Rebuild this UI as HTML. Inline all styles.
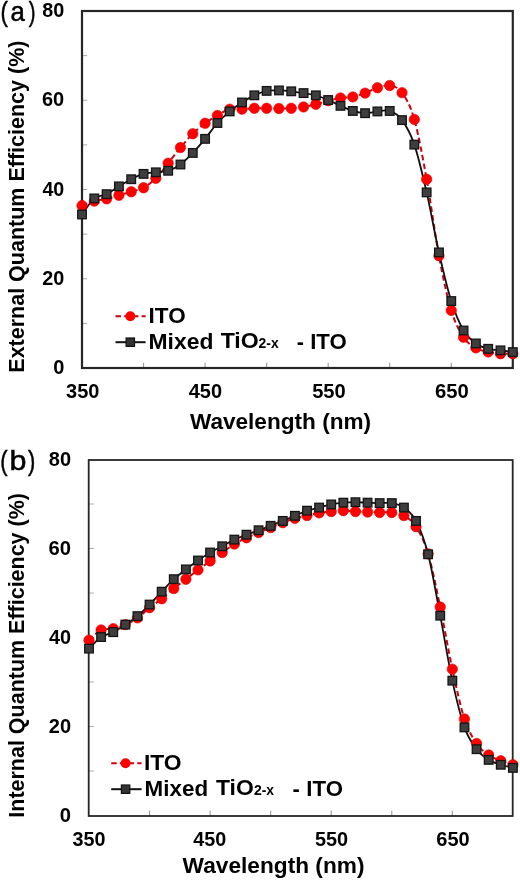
<!DOCTYPE html>
<html><head><meta charset="utf-8"><style>
html,body{margin:0;padding:0;background:#fff;}
body{width:520px;height:880px;overflow:hidden;}
svg{display:block;will-change:transform;font-family:"Liberation Sans", sans-serif;}
.e{}
</style></head><body>
<svg width="520" height="880" viewBox="0 0 520 880" fill="#000">
<line x1="143.54" y1="368.00" x2="143.54" y2="362.80" stroke="#999" stroke-width="1.1"/>
<line x1="205.09" y1="368.00" x2="205.09" y2="362.80" stroke="#999" stroke-width="1.1"/>
<line x1="266.63" y1="368.00" x2="266.63" y2="362.80" stroke="#999" stroke-width="1.1"/>
<line x1="328.17" y1="368.00" x2="328.17" y2="362.80" stroke="#999" stroke-width="1.1"/>
<line x1="389.71" y1="368.00" x2="389.71" y2="362.80" stroke="#999" stroke-width="1.1"/>
<line x1="451.26" y1="368.00" x2="451.26" y2="362.80" stroke="#999" stroke-width="1.1"/>
<line x1="82.00" y1="323.38" x2="87.20" y2="323.38" stroke="#aaa" stroke-width="1"/>
<line x1="82.00" y1="278.75" x2="87.20" y2="278.75" stroke="#aaa" stroke-width="1"/>
<line x1="82.00" y1="234.12" x2="87.20" y2="234.12" stroke="#aaa" stroke-width="1"/>
<line x1="82.00" y1="189.50" x2="87.20" y2="189.50" stroke="#aaa" stroke-width="1"/>
<line x1="82.00" y1="144.88" x2="87.20" y2="144.88" stroke="#aaa" stroke-width="1"/>
<line x1="82.00" y1="100.25" x2="87.20" y2="100.25" stroke="#aaa" stroke-width="1"/>
<line x1="82.00" y1="55.62" x2="87.20" y2="55.62" stroke="#aaa" stroke-width="1"/>
<rect x="82.00" y="11.00" width="430.80" height="357.00" fill="none" stroke="#262626" stroke-width="2.20"/>
<path d="M82.00,205.56 C84.05,204.82 90.21,202.22 94.31,201.10 C98.41,199.99 102.51,199.84 106.62,198.87 C110.72,197.90 114.82,196.49 118.93,195.30 C123.03,194.11 127.13,193.00 131.23,191.73 C135.34,190.47 139.44,189.95 143.54,187.72 C147.65,185.48 151.75,182.43 155.85,178.34 C159.95,174.25 164.06,168.30 168.16,163.17 C172.26,158.04 176.37,152.46 180.47,147.55 C184.57,142.64 188.67,137.77 192.78,133.72 C196.88,129.67 200.98,126.28 205.09,123.23 C209.19,120.18 213.29,117.77 217.39,115.42 C221.50,113.08 225.60,110.22 229.70,109.18 C233.81,108.13 237.91,109.32 242.01,109.18 C246.11,109.03 250.22,108.43 254.32,108.28 C258.42,108.13 262.53,108.25 266.63,108.28 C270.73,108.32 274.83,108.51 278.94,108.51 C283.04,108.51 287.14,108.54 291.25,108.28 C295.35,108.02 299.45,107.61 303.55,106.94 C307.66,106.27 311.76,105.31 315.86,104.27 C319.97,103.23 324.07,101.74 328.17,100.70 C332.27,99.66 336.38,98.65 340.48,98.02 C344.58,97.39 348.69,97.72 352.79,96.90 C356.89,96.08 360.99,94.63 365.10,93.11 C369.20,91.59 373.30,89.02 377.41,87.75 C381.51,86.49 385.61,84.71 389.71,85.52 C393.82,86.34 397.92,87.01 402.02,92.66 C406.13,98.32 410.23,105.01 414.33,119.44 C418.43,133.87 422.54,156.51 426.64,179.24 C430.74,201.96 434.85,233.90 438.95,255.77 C443.05,277.63 447.15,296.86 451.26,310.43 C455.36,324.01 459.46,330.96 463.57,337.21 C467.67,343.46 471.77,345.46 475.87,347.92 C479.98,350.37 484.08,350.97 488.18,351.94 C492.29,352.90 496.39,353.42 500.49,353.72 C504.59,354.02 510.75,353.72 512.80,353.72" fill="none" stroke="#d00010" stroke-width="2.00" stroke-dasharray="5.5,3.2"/>
<path d="M82.00,214.49 C84.05,211.81 90.21,201.81 94.31,198.43 C98.41,195.04 102.51,196.19 106.62,194.19 C110.72,192.18 114.82,188.87 118.93,186.38 C123.03,183.88 127.13,181.32 131.23,179.24 C135.34,177.15 139.44,175.03 143.54,173.88 C147.65,172.73 151.75,172.84 155.85,172.32 C159.95,171.80 164.06,172.06 168.16,170.76 C172.26,169.46 176.37,167.48 180.47,164.51 C184.57,161.53 188.67,157.18 192.78,152.91 C196.88,148.63 200.98,143.83 205.09,138.85 C209.19,133.87 213.29,127.58 217.39,123.01 C221.50,118.43 225.60,114.83 229.70,111.41 C233.81,107.98 237.91,105.16 242.01,102.48 C246.11,99.80 250.22,97.28 254.32,95.34 C258.42,93.41 262.53,91.70 266.63,90.88 C270.73,90.06 274.83,90.36 278.94,90.43 C283.04,90.51 287.14,90.88 291.25,91.32 C295.35,91.77 299.45,92.44 303.55,93.11 C307.66,93.78 311.76,94.19 315.86,95.34 C319.97,96.49 324.07,98.28 328.17,100.03 C332.27,101.77 336.38,104.01 340.48,105.83 C344.58,107.65 348.69,109.73 352.79,110.96 C356.89,112.19 360.99,113.12 365.10,113.19 C369.20,113.27 373.30,111.78 377.41,111.41 C381.51,111.03 385.61,109.51 389.71,110.96 C393.82,112.41 397.92,114.50 402.02,120.11 C406.13,125.72 410.23,132.56 414.33,144.61 C418.43,156.66 422.54,174.43 426.64,192.40 C430.74,210.37 434.85,234.31 438.95,252.42 C443.05,270.53 447.15,288.05 451.26,301.06 C455.36,314.08 459.46,323.45 463.57,330.51 C467.67,337.58 471.77,340.41 475.87,343.46 C479.98,346.51 484.08,347.66 488.18,348.81 C492.29,349.96 496.39,349.82 500.49,350.37 C504.59,350.92 510.75,351.82 512.80,352.11" fill="none" stroke="#111" stroke-width="1.80"/>
<circle cx="82.00" cy="205.56" r="5.20" fill="#ff0000" stroke="#e00000" stroke-width="0.6"/>
<circle cx="94.31" cy="201.10" r="5.20" fill="#ff0000" stroke="#e00000" stroke-width="0.6"/>
<circle cx="106.62" cy="198.87" r="5.20" fill="#ff0000" stroke="#e00000" stroke-width="0.6"/>
<circle cx="118.93" cy="195.30" r="5.20" fill="#ff0000" stroke="#e00000" stroke-width="0.6"/>
<circle cx="131.23" cy="191.73" r="5.20" fill="#ff0000" stroke="#e00000" stroke-width="0.6"/>
<circle cx="143.54" cy="187.72" r="5.20" fill="#ff0000" stroke="#e00000" stroke-width="0.6"/>
<circle cx="155.85" cy="178.34" r="5.20" fill="#ff0000" stroke="#e00000" stroke-width="0.6"/>
<circle cx="168.16" cy="163.17" r="5.20" fill="#ff0000" stroke="#e00000" stroke-width="0.6"/>
<circle cx="180.47" cy="147.55" r="5.20" fill="#ff0000" stroke="#e00000" stroke-width="0.6"/>
<circle cx="192.78" cy="133.72" r="5.20" fill="#ff0000" stroke="#e00000" stroke-width="0.6"/>
<circle cx="205.09" cy="123.23" r="5.20" fill="#ff0000" stroke="#e00000" stroke-width="0.6"/>
<circle cx="217.39" cy="115.42" r="5.20" fill="#ff0000" stroke="#e00000" stroke-width="0.6"/>
<circle cx="229.70" cy="109.18" r="5.20" fill="#ff0000" stroke="#e00000" stroke-width="0.6"/>
<circle cx="242.01" cy="109.18" r="5.20" fill="#ff0000" stroke="#e00000" stroke-width="0.6"/>
<circle cx="254.32" cy="108.28" r="5.20" fill="#ff0000" stroke="#e00000" stroke-width="0.6"/>
<circle cx="266.63" cy="108.28" r="5.20" fill="#ff0000" stroke="#e00000" stroke-width="0.6"/>
<circle cx="278.94" cy="108.51" r="5.20" fill="#ff0000" stroke="#e00000" stroke-width="0.6"/>
<circle cx="291.25" cy="108.28" r="5.20" fill="#ff0000" stroke="#e00000" stroke-width="0.6"/>
<circle cx="303.55" cy="106.94" r="5.20" fill="#ff0000" stroke="#e00000" stroke-width="0.6"/>
<circle cx="315.86" cy="104.27" r="5.20" fill="#ff0000" stroke="#e00000" stroke-width="0.6"/>
<circle cx="328.17" cy="100.70" r="5.20" fill="#ff0000" stroke="#e00000" stroke-width="0.6"/>
<circle cx="340.48" cy="98.02" r="5.20" fill="#ff0000" stroke="#e00000" stroke-width="0.6"/>
<circle cx="352.79" cy="96.90" r="5.20" fill="#ff0000" stroke="#e00000" stroke-width="0.6"/>
<circle cx="365.10" cy="93.11" r="5.20" fill="#ff0000" stroke="#e00000" stroke-width="0.6"/>
<circle cx="377.41" cy="87.75" r="5.20" fill="#ff0000" stroke="#e00000" stroke-width="0.6"/>
<circle cx="389.71" cy="85.52" r="5.20" fill="#ff0000" stroke="#e00000" stroke-width="0.6"/>
<circle cx="402.02" cy="92.66" r="5.20" fill="#ff0000" stroke="#e00000" stroke-width="0.6"/>
<circle cx="414.33" cy="119.44" r="5.20" fill="#ff0000" stroke="#e00000" stroke-width="0.6"/>
<circle cx="426.64" cy="179.24" r="5.20" fill="#ff0000" stroke="#e00000" stroke-width="0.6"/>
<circle cx="438.95" cy="255.77" r="5.20" fill="#ff0000" stroke="#e00000" stroke-width="0.6"/>
<circle cx="451.26" cy="310.43" r="5.20" fill="#ff0000" stroke="#e00000" stroke-width="0.6"/>
<circle cx="463.57" cy="337.21" r="5.20" fill="#ff0000" stroke="#e00000" stroke-width="0.6"/>
<circle cx="475.87" cy="347.92" r="5.20" fill="#ff0000" stroke="#e00000" stroke-width="0.6"/>
<circle cx="488.18" cy="351.94" r="5.20" fill="#ff0000" stroke="#e00000" stroke-width="0.6"/>
<circle cx="500.49" cy="353.72" r="5.20" fill="#ff0000" stroke="#e00000" stroke-width="0.6"/>
<circle cx="512.80" cy="353.72" r="5.20" fill="#ff0000" stroke="#e00000" stroke-width="0.6"/>
<rect x="77.70" y="210.19" width="8.60" height="8.60" fill="#3e3e3e" stroke="#151515" stroke-width="1.3"/>
<rect x="90.01" y="194.12" width="8.60" height="8.60" fill="#3e3e3e" stroke="#151515" stroke-width="1.3"/>
<rect x="102.32" y="189.89" width="8.60" height="8.60" fill="#3e3e3e" stroke="#151515" stroke-width="1.3"/>
<rect x="114.63" y="182.08" width="8.60" height="8.60" fill="#3e3e3e" stroke="#151515" stroke-width="1.3"/>
<rect x="126.93" y="174.94" width="8.60" height="8.60" fill="#3e3e3e" stroke="#151515" stroke-width="1.3"/>
<rect x="139.24" y="169.58" width="8.60" height="8.60" fill="#3e3e3e" stroke="#151515" stroke-width="1.3"/>
<rect x="151.55" y="168.02" width="8.60" height="8.60" fill="#3e3e3e" stroke="#151515" stroke-width="1.3"/>
<rect x="163.86" y="166.46" width="8.60" height="8.60" fill="#3e3e3e" stroke="#151515" stroke-width="1.3"/>
<rect x="176.17" y="160.21" width="8.60" height="8.60" fill="#3e3e3e" stroke="#151515" stroke-width="1.3"/>
<rect x="188.48" y="148.61" width="8.60" height="8.60" fill="#3e3e3e" stroke="#151515" stroke-width="1.3"/>
<rect x="200.79" y="134.55" width="8.60" height="8.60" fill="#3e3e3e" stroke="#151515" stroke-width="1.3"/>
<rect x="213.09" y="118.71" width="8.60" height="8.60" fill="#3e3e3e" stroke="#151515" stroke-width="1.3"/>
<rect x="225.40" y="107.11" width="8.60" height="8.60" fill="#3e3e3e" stroke="#151515" stroke-width="1.3"/>
<rect x="237.71" y="98.18" width="8.60" height="8.60" fill="#3e3e3e" stroke="#151515" stroke-width="1.3"/>
<rect x="250.02" y="91.04" width="8.60" height="8.60" fill="#3e3e3e" stroke="#151515" stroke-width="1.3"/>
<rect x="262.33" y="86.58" width="8.60" height="8.60" fill="#3e3e3e" stroke="#151515" stroke-width="1.3"/>
<rect x="274.64" y="86.13" width="8.60" height="8.60" fill="#3e3e3e" stroke="#151515" stroke-width="1.3"/>
<rect x="286.95" y="87.02" width="8.60" height="8.60" fill="#3e3e3e" stroke="#151515" stroke-width="1.3"/>
<rect x="299.25" y="88.81" width="8.60" height="8.60" fill="#3e3e3e" stroke="#151515" stroke-width="1.3"/>
<rect x="311.56" y="91.04" width="8.60" height="8.60" fill="#3e3e3e" stroke="#151515" stroke-width="1.3"/>
<rect x="323.87" y="95.73" width="8.60" height="8.60" fill="#3e3e3e" stroke="#151515" stroke-width="1.3"/>
<rect x="336.18" y="101.53" width="8.60" height="8.60" fill="#3e3e3e" stroke="#151515" stroke-width="1.3"/>
<rect x="348.49" y="106.66" width="8.60" height="8.60" fill="#3e3e3e" stroke="#151515" stroke-width="1.3"/>
<rect x="360.80" y="108.89" width="8.60" height="8.60" fill="#3e3e3e" stroke="#151515" stroke-width="1.3"/>
<rect x="373.11" y="107.11" width="8.60" height="8.60" fill="#3e3e3e" stroke="#151515" stroke-width="1.3"/>
<rect x="385.41" y="106.66" width="8.60" height="8.60" fill="#3e3e3e" stroke="#151515" stroke-width="1.3"/>
<rect x="397.72" y="115.81" width="8.60" height="8.60" fill="#3e3e3e" stroke="#151515" stroke-width="1.3"/>
<rect x="410.03" y="140.31" width="8.60" height="8.60" fill="#3e3e3e" stroke="#151515" stroke-width="1.3"/>
<rect x="422.34" y="188.10" width="8.60" height="8.60" fill="#3e3e3e" stroke="#151515" stroke-width="1.3"/>
<rect x="434.65" y="248.12" width="8.60" height="8.60" fill="#3e3e3e" stroke="#151515" stroke-width="1.3"/>
<rect x="446.96" y="296.76" width="8.60" height="8.60" fill="#3e3e3e" stroke="#151515" stroke-width="1.3"/>
<rect x="459.27" y="326.21" width="8.60" height="8.60" fill="#3e3e3e" stroke="#151515" stroke-width="1.3"/>
<rect x="471.57" y="339.16" width="8.60" height="8.60" fill="#3e3e3e" stroke="#151515" stroke-width="1.3"/>
<rect x="483.88" y="344.51" width="8.60" height="8.60" fill="#3e3e3e" stroke="#151515" stroke-width="1.3"/>
<rect x="496.19" y="346.07" width="8.60" height="8.60" fill="#3e3e3e" stroke="#151515" stroke-width="1.3"/>
<rect x="508.50" y="347.81" width="8.60" height="8.60" fill="#3e3e3e" stroke="#151515" stroke-width="1.3"/>
<line x1="149.56" y1="816.00" x2="149.56" y2="810.80" stroke="#999" stroke-width="1.1"/>
<line x1="210.11" y1="816.00" x2="210.11" y2="810.80" stroke="#999" stroke-width="1.1"/>
<line x1="270.67" y1="816.00" x2="270.67" y2="810.80" stroke="#999" stroke-width="1.1"/>
<line x1="331.23" y1="816.00" x2="331.23" y2="810.80" stroke="#999" stroke-width="1.1"/>
<line x1="391.79" y1="816.00" x2="391.79" y2="810.80" stroke="#999" stroke-width="1.1"/>
<line x1="452.34" y1="816.00" x2="452.34" y2="810.80" stroke="#999" stroke-width="1.1"/>
<line x1="88.70" y1="771.00" x2="93.90" y2="771.00" stroke="#aaa" stroke-width="1"/>
<line x1="88.70" y1="726.50" x2="93.90" y2="726.50" stroke="#aaa" stroke-width="1"/>
<line x1="88.70" y1="682.00" x2="93.90" y2="682.00" stroke="#aaa" stroke-width="1"/>
<line x1="88.70" y1="637.50" x2="93.90" y2="637.50" stroke="#aaa" stroke-width="1"/>
<line x1="88.70" y1="593.00" x2="93.90" y2="593.00" stroke="#aaa" stroke-width="1"/>
<line x1="88.70" y1="548.50" x2="93.90" y2="548.50" stroke="#aaa" stroke-width="1"/>
<line x1="88.70" y1="504.00" x2="93.90" y2="504.00" stroke="#aaa" stroke-width="1"/>
<rect x="88.70" y="460.00" width="424.00" height="356.00" fill="none" stroke="#262626" stroke-width="1.80"/>
<path d="M89.00,640.17 C91.02,638.46 97.07,631.86 101.11,629.93 C105.15,628.01 109.19,629.49 113.22,628.60 C117.26,627.71 121.30,626.38 125.33,624.60 C129.37,622.82 133.41,620.74 137.45,617.92 C141.48,615.10 145.52,610.87 149.56,607.68 C153.59,604.50 157.63,601.97 161.67,598.78 C165.71,595.60 169.74,591.81 173.78,588.55 C177.82,585.29 181.85,582.32 185.89,579.20 C189.93,576.09 193.97,572.90 198.00,569.86 C202.04,566.82 206.08,563.85 210.11,560.96 C214.15,558.07 218.19,555.32 222.23,552.50 C226.26,549.69 230.30,546.50 234.34,544.05 C238.37,541.60 242.41,539.75 246.45,537.82 C250.49,535.89 254.52,534.19 258.56,532.48 C262.60,530.77 266.63,529.22 270.67,527.59 C274.71,525.95 278.75,524.25 282.78,522.69 C286.82,521.13 290.86,519.43 294.89,518.24 C298.93,517.05 302.97,516.46 307.01,515.57 C311.04,514.68 315.08,513.57 319.12,512.90 C323.15,512.23 327.19,511.94 331.23,511.56 C335.27,511.19 339.30,510.68 343.34,510.68 C347.38,510.68 351.41,511.34 355.45,511.56 C359.49,511.79 363.53,511.86 367.56,512.01 C371.60,512.16 375.64,512.38 379.67,512.46 C383.71,512.53 387.75,511.94 391.79,512.46 C395.82,512.97 399.86,513.20 403.90,515.57 C407.93,517.94 411.97,520.32 416.01,526.69 C420.05,533.07 424.08,540.45 428.12,553.84 C432.16,567.23 436.19,587.81 440.23,607.02 C444.27,626.23 448.31,650.44 452.34,669.10 C456.38,687.75 460.42,706.55 464.45,718.93 C468.49,731.32 472.53,737.40 476.57,743.41 C480.60,749.42 484.64,752.09 488.68,754.98 C492.71,757.87 496.75,759.13 500.79,760.76 C504.83,762.40 510.88,764.10 512.90,764.77" fill="none" stroke="#d00010" stroke-width="2.00" stroke-dasharray="5.5,3.2"/>
<path d="M89.00,648.62 C91.02,646.70 97.07,639.80 101.11,637.06 C105.15,634.31 109.19,634.24 113.22,632.16 C117.26,630.08 121.30,627.26 125.33,624.60 C129.37,621.93 133.41,619.48 137.45,616.14 C141.48,612.80 145.52,608.65 149.56,604.57 C153.59,600.49 157.63,595.89 161.67,591.66 C165.71,587.44 169.74,582.91 173.78,579.20 C177.82,575.50 181.85,572.53 185.89,569.41 C189.93,566.30 193.97,563.33 198.00,560.51 C202.04,557.70 206.08,554.88 210.11,552.50 C214.15,550.13 218.19,548.43 222.23,546.27 C226.26,544.12 230.30,541.53 234.34,539.60 C238.37,537.67 242.41,536.26 246.45,534.70 C250.49,533.15 254.52,531.74 258.56,530.25 C262.60,528.77 266.63,527.36 270.67,525.81 C274.71,524.25 278.75,522.58 282.78,520.91 C286.82,519.24 290.86,517.50 294.89,515.79 C298.93,514.09 302.97,512.05 307.01,510.68 C311.04,509.30 315.08,508.60 319.12,507.56 C323.15,506.52 327.19,505.26 331.23,504.44 C335.27,503.63 339.30,503.04 343.34,502.67 C347.38,502.29 351.41,502.22 355.45,502.22 C359.49,502.22 363.53,502.52 367.56,502.67 C371.60,502.81 375.64,503.04 379.67,503.11 C383.71,503.18 387.75,502.37 391.79,503.11 C395.82,503.85 399.86,504.59 403.90,507.56 C407.93,510.53 411.97,513.12 416.01,520.91 C420.05,528.70 424.08,538.49 428.12,554.28 C432.16,570.08 436.19,594.63 440.23,615.69 C444.27,636.76 448.31,662.05 452.34,680.66 C456.38,699.28 460.42,715.97 464.45,727.39 C468.49,738.81 472.53,743.78 476.57,749.19 C480.60,754.61 484.64,757.28 488.68,759.88 C492.71,762.47 496.75,763.43 500.79,764.77 C504.83,766.11 510.88,767.37 512.90,767.88" fill="none" stroke="#111" stroke-width="1.80"/>
<circle cx="89.00" cy="640.17" r="5.20" fill="#ff0000" stroke="#e00000" stroke-width="0.6"/>
<circle cx="101.11" cy="629.93" r="5.20" fill="#ff0000" stroke="#e00000" stroke-width="0.6"/>
<circle cx="113.22" cy="628.60" r="5.20" fill="#ff0000" stroke="#e00000" stroke-width="0.6"/>
<circle cx="125.33" cy="624.60" r="5.20" fill="#ff0000" stroke="#e00000" stroke-width="0.6"/>
<circle cx="137.45" cy="617.92" r="5.20" fill="#ff0000" stroke="#e00000" stroke-width="0.6"/>
<circle cx="149.56" cy="607.68" r="5.20" fill="#ff0000" stroke="#e00000" stroke-width="0.6"/>
<circle cx="161.67" cy="598.78" r="5.20" fill="#ff0000" stroke="#e00000" stroke-width="0.6"/>
<circle cx="173.78" cy="588.55" r="5.20" fill="#ff0000" stroke="#e00000" stroke-width="0.6"/>
<circle cx="185.89" cy="579.20" r="5.20" fill="#ff0000" stroke="#e00000" stroke-width="0.6"/>
<circle cx="198.00" cy="569.86" r="5.20" fill="#ff0000" stroke="#e00000" stroke-width="0.6"/>
<circle cx="210.11" cy="560.96" r="5.20" fill="#ff0000" stroke="#e00000" stroke-width="0.6"/>
<circle cx="222.23" cy="552.50" r="5.20" fill="#ff0000" stroke="#e00000" stroke-width="0.6"/>
<circle cx="234.34" cy="544.05" r="5.20" fill="#ff0000" stroke="#e00000" stroke-width="0.6"/>
<circle cx="246.45" cy="537.82" r="5.20" fill="#ff0000" stroke="#e00000" stroke-width="0.6"/>
<circle cx="258.56" cy="532.48" r="5.20" fill="#ff0000" stroke="#e00000" stroke-width="0.6"/>
<circle cx="270.67" cy="527.59" r="5.20" fill="#ff0000" stroke="#e00000" stroke-width="0.6"/>
<circle cx="282.78" cy="522.69" r="5.20" fill="#ff0000" stroke="#e00000" stroke-width="0.6"/>
<circle cx="294.89" cy="518.24" r="5.20" fill="#ff0000" stroke="#e00000" stroke-width="0.6"/>
<circle cx="307.01" cy="515.57" r="5.20" fill="#ff0000" stroke="#e00000" stroke-width="0.6"/>
<circle cx="319.12" cy="512.90" r="5.20" fill="#ff0000" stroke="#e00000" stroke-width="0.6"/>
<circle cx="331.23" cy="511.56" r="5.20" fill="#ff0000" stroke="#e00000" stroke-width="0.6"/>
<circle cx="343.34" cy="510.68" r="5.20" fill="#ff0000" stroke="#e00000" stroke-width="0.6"/>
<circle cx="355.45" cy="511.56" r="5.20" fill="#ff0000" stroke="#e00000" stroke-width="0.6"/>
<circle cx="367.56" cy="512.01" r="5.20" fill="#ff0000" stroke="#e00000" stroke-width="0.6"/>
<circle cx="379.67" cy="512.46" r="5.20" fill="#ff0000" stroke="#e00000" stroke-width="0.6"/>
<circle cx="391.79" cy="512.46" r="5.20" fill="#ff0000" stroke="#e00000" stroke-width="0.6"/>
<circle cx="403.90" cy="515.57" r="5.20" fill="#ff0000" stroke="#e00000" stroke-width="0.6"/>
<circle cx="416.01" cy="526.69" r="5.20" fill="#ff0000" stroke="#e00000" stroke-width="0.6"/>
<circle cx="428.12" cy="553.84" r="5.20" fill="#ff0000" stroke="#e00000" stroke-width="0.6"/>
<circle cx="440.23" cy="607.02" r="5.20" fill="#ff0000" stroke="#e00000" stroke-width="0.6"/>
<circle cx="452.34" cy="669.10" r="5.20" fill="#ff0000" stroke="#e00000" stroke-width="0.6"/>
<circle cx="464.45" cy="718.93" r="5.20" fill="#ff0000" stroke="#e00000" stroke-width="0.6"/>
<circle cx="476.57" cy="743.41" r="5.20" fill="#ff0000" stroke="#e00000" stroke-width="0.6"/>
<circle cx="488.68" cy="754.98" r="5.20" fill="#ff0000" stroke="#e00000" stroke-width="0.6"/>
<circle cx="500.79" cy="760.76" r="5.20" fill="#ff0000" stroke="#e00000" stroke-width="0.6"/>
<circle cx="512.90" cy="764.77" r="5.20" fill="#ff0000" stroke="#e00000" stroke-width="0.6"/>
<rect x="84.70" y="644.33" width="8.60" height="8.60" fill="#3e3e3e" stroke="#151515" stroke-width="1.3"/>
<rect x="96.81" y="632.76" width="8.60" height="8.60" fill="#3e3e3e" stroke="#151515" stroke-width="1.3"/>
<rect x="108.92" y="627.86" width="8.60" height="8.60" fill="#3e3e3e" stroke="#151515" stroke-width="1.3"/>
<rect x="121.03" y="620.30" width="8.60" height="8.60" fill="#3e3e3e" stroke="#151515" stroke-width="1.3"/>
<rect x="133.15" y="611.84" width="8.60" height="8.60" fill="#3e3e3e" stroke="#151515" stroke-width="1.3"/>
<rect x="145.26" y="600.27" width="8.60" height="8.60" fill="#3e3e3e" stroke="#151515" stroke-width="1.3"/>
<rect x="157.37" y="587.37" width="8.60" height="8.60" fill="#3e3e3e" stroke="#151515" stroke-width="1.3"/>
<rect x="169.48" y="574.90" width="8.60" height="8.60" fill="#3e3e3e" stroke="#151515" stroke-width="1.3"/>
<rect x="181.59" y="565.12" width="8.60" height="8.60" fill="#3e3e3e" stroke="#151515" stroke-width="1.3"/>
<rect x="193.70" y="556.22" width="8.60" height="8.60" fill="#3e3e3e" stroke="#151515" stroke-width="1.3"/>
<rect x="205.81" y="548.21" width="8.60" height="8.60" fill="#3e3e3e" stroke="#151515" stroke-width="1.3"/>
<rect x="217.93" y="541.98" width="8.60" height="8.60" fill="#3e3e3e" stroke="#151515" stroke-width="1.3"/>
<rect x="230.04" y="535.30" width="8.60" height="8.60" fill="#3e3e3e" stroke="#151515" stroke-width="1.3"/>
<rect x="242.15" y="530.40" width="8.60" height="8.60" fill="#3e3e3e" stroke="#151515" stroke-width="1.3"/>
<rect x="254.26" y="525.96" width="8.60" height="8.60" fill="#3e3e3e" stroke="#151515" stroke-width="1.3"/>
<rect x="266.37" y="521.51" width="8.60" height="8.60" fill="#3e3e3e" stroke="#151515" stroke-width="1.3"/>
<rect x="278.48" y="516.61" width="8.60" height="8.60" fill="#3e3e3e" stroke="#151515" stroke-width="1.3"/>
<rect x="290.59" y="511.49" width="8.60" height="8.60" fill="#3e3e3e" stroke="#151515" stroke-width="1.3"/>
<rect x="302.71" y="506.38" width="8.60" height="8.60" fill="#3e3e3e" stroke="#151515" stroke-width="1.3"/>
<rect x="314.82" y="503.26" width="8.60" height="8.60" fill="#3e3e3e" stroke="#151515" stroke-width="1.3"/>
<rect x="326.93" y="500.14" width="8.60" height="8.60" fill="#3e3e3e" stroke="#151515" stroke-width="1.3"/>
<rect x="339.04" y="498.37" width="8.60" height="8.60" fill="#3e3e3e" stroke="#151515" stroke-width="1.3"/>
<rect x="351.15" y="497.92" width="8.60" height="8.60" fill="#3e3e3e" stroke="#151515" stroke-width="1.3"/>
<rect x="363.26" y="498.37" width="8.60" height="8.60" fill="#3e3e3e" stroke="#151515" stroke-width="1.3"/>
<rect x="375.37" y="498.81" width="8.60" height="8.60" fill="#3e3e3e" stroke="#151515" stroke-width="1.3"/>
<rect x="387.49" y="498.81" width="8.60" height="8.60" fill="#3e3e3e" stroke="#151515" stroke-width="1.3"/>
<rect x="399.60" y="503.26" width="8.60" height="8.60" fill="#3e3e3e" stroke="#151515" stroke-width="1.3"/>
<rect x="411.71" y="516.61" width="8.60" height="8.60" fill="#3e3e3e" stroke="#151515" stroke-width="1.3"/>
<rect x="423.82" y="549.99" width="8.60" height="8.60" fill="#3e3e3e" stroke="#151515" stroke-width="1.3"/>
<rect x="435.93" y="611.39" width="8.60" height="8.60" fill="#3e3e3e" stroke="#151515" stroke-width="1.3"/>
<rect x="448.04" y="676.37" width="8.60" height="8.60" fill="#3e3e3e" stroke="#151515" stroke-width="1.3"/>
<rect x="460.15" y="723.09" width="8.60" height="8.60" fill="#3e3e3e" stroke="#151515" stroke-width="1.3"/>
<rect x="472.27" y="744.89" width="8.60" height="8.60" fill="#3e3e3e" stroke="#151515" stroke-width="1.3"/>
<rect x="484.38" y="755.58" width="8.60" height="8.60" fill="#3e3e3e" stroke="#151515" stroke-width="1.3"/>
<rect x="496.49" y="760.47" width="8.60" height="8.60" fill="#3e3e3e" stroke="#151515" stroke-width="1.3"/>
<rect x="508.60" y="763.59" width="8.60" height="8.60" fill="#3e3e3e" stroke="#151515" stroke-width="1.3"/>
<text x="53.20" y="374.15" font-size="19.30" font-weight="bold" textLength="11.13" lengthAdjust="spacingAndGlyphs" class="e">0</text>
<text x="42.21" y="284.90" font-size="19.30" font-weight="bold" textLength="22.03" lengthAdjust="spacingAndGlyphs" class="e">20</text>
<text x="42.41" y="195.66" font-size="19.30" font-weight="bold" textLength="21.82" lengthAdjust="spacingAndGlyphs" class="e">40</text>
<text x="42.00" y="106.41" font-size="19.30" font-weight="bold" textLength="22.25" lengthAdjust="spacingAndGlyphs" class="e">60</text>
<text x="42.21" y="17.16" font-size="19.30" font-weight="bold" textLength="22.03" lengthAdjust="spacingAndGlyphs" class="e">80</text>
<text x="59.89" y="822.36" font-size="19.30" font-weight="bold" textLength="11.24" lengthAdjust="spacingAndGlyphs" class="e">0</text>
<text x="48.80" y="733.36" font-size="19.30" font-weight="bold" textLength="22.25" lengthAdjust="spacingAndGlyphs" class="e">20</text>
<text x="49.00" y="644.36" font-size="19.30" font-weight="bold" textLength="22.04" lengthAdjust="spacingAndGlyphs" class="e">40</text>
<text x="48.59" y="555.36" font-size="19.30" font-weight="bold" textLength="22.46" lengthAdjust="spacingAndGlyphs" class="e">60</text>
<text x="48.80" y="466.36" font-size="19.30" font-weight="bold" textLength="22.25" lengthAdjust="spacingAndGlyphs" class="e">80</text>
<text x="66.10" y="398.30" font-size="19.30" font-weight="bold" textLength="33.37" lengthAdjust="spacingAndGlyphs" class="e">350</text>
<text x="72.55" y="846.20" font-size="19.30" font-weight="bold" textLength="32.96" lengthAdjust="spacingAndGlyphs" class="e">350</text>
<text x="188.65" y="398.30" font-size="19.30" font-weight="bold" textLength="33.37" lengthAdjust="spacingAndGlyphs" class="e">450</text>
<text x="193.25" y="846.20" font-size="19.30" font-weight="bold" textLength="32.96" lengthAdjust="spacingAndGlyphs" class="e">450</text>
<text x="312.15" y="398.30" font-size="19.30" font-weight="bold" textLength="33.58" lengthAdjust="spacingAndGlyphs" class="e">550</text>
<text x="314.90" y="846.20" font-size="19.30" font-weight="bold" textLength="33.16" lengthAdjust="spacingAndGlyphs" class="e">550</text>
<text x="435.04" y="398.30" font-size="19.30" font-weight="bold" textLength="33.79" lengthAdjust="spacingAndGlyphs" class="e">650</text>
<text x="436.35" y="846.20" font-size="19.30" font-weight="bold" textLength="33.37" lengthAdjust="spacingAndGlyphs" class="e">650</text>
<text x="189.90" y="428.50" font-size="21.50" font-weight="bold" textLength="181.20" lengthAdjust="spacingAndGlyphs" class="e">Wavelength (nm)</text>
<text x="182.60" y="872.80" font-size="21.50" font-weight="bold" textLength="181.90" lengthAdjust="spacingAndGlyphs" class="e">Wavelength (nm)</text>
<text transform="translate(23.60,372.71) rotate(-90)" class="e" font-size="21.30" font-weight="bold" textLength="332.13" lengthAdjust="spacingAndGlyphs">External Quantum Efficiency (%)</text>
<text transform="translate(23.50,817.70) rotate(-90)" class="e" font-size="21.30" font-weight="bold" textLength="324.65" lengthAdjust="spacingAndGlyphs">Internal Quantum Efficiency (%)</text>
<text x="0.56" y="20.70" font-size="27.80" font-weight="normal" textLength="7.43" lengthAdjust="spacingAndGlyphs" stroke="#000" stroke-width="0.5">(</text>
<text x="10.57" y="20.90" font-size="27.80" font-weight="normal" textLength="14.33" lengthAdjust="spacingAndGlyphs" stroke="#000" stroke-width="0.5">a</text>
<text x="28.70" y="20.70" font-size="27.80" font-weight="normal" textLength="6.79" lengthAdjust="spacingAndGlyphs" stroke="#000" stroke-width="0.5">)</text>
<text x="0.28" y="469.60" font-size="27.60" font-weight="normal" textLength="7.30" lengthAdjust="spacingAndGlyphs" stroke="#000" stroke-width="0.5">(</text>
<text x="9.47" y="469.70" font-size="27.60" font-weight="normal" textLength="16.94" lengthAdjust="spacingAndGlyphs" stroke="#000" stroke-width="0.5">b</text>
<text x="27.88" y="469.60" font-size="27.60" font-weight="normal" textLength="7.30" lengthAdjust="spacingAndGlyphs" stroke="#000" stroke-width="0.5">)</text>
<line x1="115.50" y1="316.20" x2="145.60" y2="316.20" stroke="#d00010" stroke-width="2" stroke-dasharray="5.5,3.2"/>
<circle cx="130.30" cy="316.20" r="5" fill="#ff0000"/>
<line x1="115.50" y1="342.20" x2="145.60" y2="342.20" stroke="#111" stroke-width="2"/>
<rect x="126.10" y="338.00" width="8.4" height="8.4" fill="#333" stroke="#111" stroke-width="1.2"/>
<line x1="111.20" y1="763.30" x2="141.60" y2="763.30" stroke="#d00010" stroke-width="2" stroke-dasharray="5.5,3.2"/>
<circle cx="125.60" cy="763.30" r="5" fill="#ff0000"/>
<line x1="111.20" y1="789.20" x2="141.60" y2="789.20" stroke="#111" stroke-width="2"/>
<rect x="121.40" y="785.00" width="8.4" height="8.4" fill="#333" stroke="#111" stroke-width="1.2"/>
<text x="148.63" y="322.60" font-size="21.50" font-weight="bold" textLength="37.04" lengthAdjust="spacingAndGlyphs" class="e">ITO</text>
<text x="148.50" y="348.60" font-size="21.50" font-weight="bold" textLength="64.87" lengthAdjust="spacingAndGlyphs" class="e">Mixed</text>
<text x="220.67" y="348.40" font-size="21.50" font-weight="bold" textLength="38.12" lengthAdjust="spacingAndGlyphs" class="e">TiO</text>
<text x="258.58" y="348.40" font-size="14.00" font-weight="bold" textLength="20.09" lengthAdjust="spacingAndGlyphs" class="e">2-x</text>
<text x="296.84" y="348.50" font-size="21.50" font-weight="bold" textLength="7.20" lengthAdjust="spacingAndGlyphs" class="e">-</text>
<text x="310.15" y="348.50" font-size="21.50" font-weight="bold" textLength="36.61" lengthAdjust="spacingAndGlyphs" class="e">ITO</text>
<text x="143.90" y="770.00" font-size="21.50" font-weight="bold" textLength="37.68" lengthAdjust="spacingAndGlyphs" class="e">ITO</text>
<text x="144.63" y="795.60" font-size="21.50" font-weight="bold" textLength="63.50" lengthAdjust="spacingAndGlyphs" class="e">Mixed</text>
<text x="215.97" y="795.30" font-size="21.50" font-weight="bold" textLength="37.81" lengthAdjust="spacingAndGlyphs" class="e">TiO</text>
<text x="253.88" y="795.30" font-size="14.00" font-weight="bold" textLength="20.19" lengthAdjust="spacingAndGlyphs" class="e">2-x</text>
<text x="292.62" y="795.50" font-size="21.50" font-weight="bold" textLength="7.33" lengthAdjust="spacingAndGlyphs" class="e">-</text>
<text x="306.35" y="795.50" font-size="21.50" font-weight="bold" textLength="36.61" lengthAdjust="spacingAndGlyphs" class="e">ITO</text>
</svg>
</body></html>
